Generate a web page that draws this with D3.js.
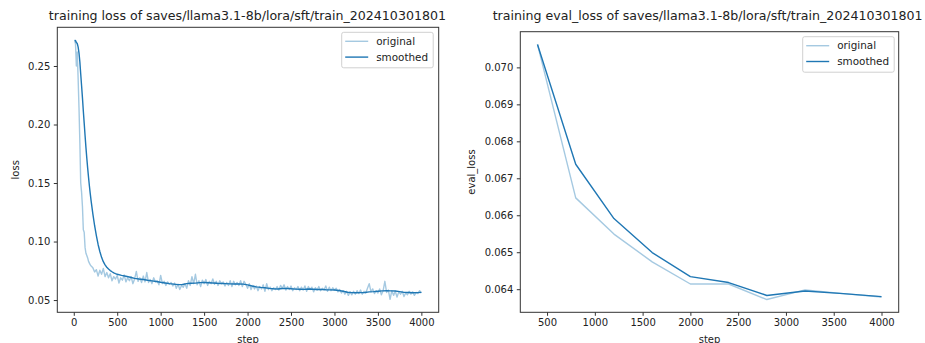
<!DOCTYPE html>
<html>

<head>
    <script src="https://d3js.org/d3.v7.min.js"></script>
    <style>
        body { margin: 0; background: #fff; }
        text { font-family: "DejaVu Sans", sans-serif; fill: #222; }
        .axis path, .axis line { stroke: #333; }
        .axis text { font-size: 10px; fill: #222; }
    </style>
</head>

<body>
    <svg id="chart" width="925" height="343"></svg>

    <script>
        // ---- data ----
        const lossSteps = d3.range(10, 201, 10).concat(d3.range(220, 4001, 20));
        const lossOriginal = [
            0.2720, 0.2690, 0.2500, 0.2620, 0.2400, 0.2150, 0.1850, 0.1500, 0.1420, 0.1300,
            0.1100, 0.1080, 0.0950, 0.0900, 0.0880, 0.0860, 0.0830, 0.0815, 0.0800, 0.0790,
            // 220 .. 4000 every 20
            0.0775, 0.0740, 0.0760, 0.0705, 0.0755, 0.0720, 0.0770, 0.0700, 0.0735, 0.0690,
            0.0725, 0.0665, 0.0700, 0.0680, 0.0710, 0.0645, 0.0690, 0.0670, 0.0715, 0.0655,
            0.0690, 0.0665, 0.0700, 0.0640, 0.0680, 0.0745, 0.0660, 0.0690, 0.0650, 0.0705,
            0.0655, 0.0735, 0.0650, 0.0675, 0.0640, 0.0690, 0.0655, 0.0665, 0.0630, 0.0710,
            0.0640, 0.0660, 0.0625, 0.0655, 0.0635, 0.0650, 0.0620, 0.0645, 0.0600, 0.0635,
            0.0590, 0.0625, 0.0610, 0.0640, 0.0600, 0.0665, 0.0625, 0.0700, 0.0640, 0.0720,
            0.0630, 0.0665, 0.0615, 0.0670, 0.0640, 0.0675, 0.0625, 0.0660, 0.0640, 0.0680,
            0.0635, 0.0660, 0.0625, 0.0665, 0.0640, 0.0655, 0.0620, 0.0650, 0.0625, 0.0665,
            0.0615, 0.0660, 0.0630, 0.0650, 0.0625, 0.0665, 0.0615, 0.0660, 0.0635, 0.0600,
            0.0640, 0.0590, 0.0625, 0.0595, 0.0620, 0.0580, 0.0615, 0.0595, 0.0630, 0.0575,
            0.0640, 0.0590, 0.0610, 0.0580, 0.0605, 0.0590, 0.0615, 0.0585, 0.0625, 0.0600,
            0.0630, 0.0585, 0.0615, 0.0590, 0.0620, 0.0580, 0.0605, 0.0590, 0.0615, 0.0580,
            0.0610, 0.0585, 0.0620, 0.0575, 0.0615, 0.0590, 0.0610, 0.0570, 0.0605, 0.0585,
            0.0615, 0.0580, 0.0600, 0.0585, 0.0620, 0.0575, 0.0610, 0.0580, 0.0605, 0.0585,
            0.0600, 0.0570, 0.0590, 0.0560, 0.0580, 0.0550, 0.0575, 0.0540, 0.0570, 0.0545,
            0.0575, 0.0550, 0.0580, 0.0555, 0.0585, 0.0550, 0.0575, 0.0560, 0.0600, 0.0640,
            0.0570, 0.0595, 0.0555, 0.0580, 0.0560, 0.0595, 0.0545, 0.0580, 0.0660, 0.0565,
            0.0585, 0.0506, 0.0580, 0.0540, 0.0575, 0.0525, 0.0570, 0.0550, 0.0575, 0.0530,
            0.0560, 0.0545, 0.0575, 0.0550, 0.0570, 0.0540, 0.0565, 0.0555, 0.0580, 0.0560
        ];

        const smoothSteps = d3.range(10, 201, 10).concat(d3.range(220, 501, 20), d3.range(550, 4001, 50));
        const lossSmoothed = [
            0.2720, 0.2717, 0.2700, 0.2692, 0.2663, 0.2612, 0.2536, 0.2432, 0.2331, 0.2228,
            0.2115, 0.2012, 0.1906, 0.1805, 0.1713, 0.1627, 0.1548, 0.1475, 0.1407, 0.1346,
            // 220 .. 500 every 20
            0.1235, 0.1135, 0.1050, 0.0975, 0.0915, 0.0865, 0.0828, 0.0800, 0.0780, 0.0765,
            0.0752, 0.0742, 0.0733, 0.0726, 0.0720,
            // 550 .. 4000 every 50
            0.0711, 0.0703, 0.0695, 0.0685, 0.0680, 0.0676, 0.0669, 0.0664, 0.0659, 0.0652,
            0.0646, 0.0640, 0.0636, 0.0632, 0.0633, 0.0640, 0.0643, 0.0645, 0.0649, 0.0650,
            0.0648, 0.0646, 0.0643, 0.0642, 0.0640, 0.0638, 0.0637, 0.0638, 0.0636, 0.0630,
            0.0620, 0.0613, 0.0608, 0.0605, 0.0600, 0.0596, 0.0595, 0.0599, 0.0600, 0.0597,
            0.0593, 0.0592, 0.0591, 0.0594, 0.0592, 0.0590, 0.0591, 0.0588, 0.0587, 0.0586,
            0.0582, 0.0575, 0.0567, 0.0563, 0.0562, 0.0563, 0.0565, 0.0570, 0.0572, 0.0575,
            0.0578, 0.0579, 0.0578, 0.0577, 0.0572, 0.0566, 0.0564, 0.0562, 0.0563, 0.0566
        ];

        const evalSteps = [400, 800, 1200, 1600, 2000, 2400, 2800, 3200, 3600, 4000];
        const evalOriginal = [0.07062, 0.06647, 0.06549, 0.06474, 0.06414, 0.06414, 0.06372, 0.06398, 0.06388, 0.06379];
        const evalSmoothed = [0.07062, 0.06738, 0.06591, 0.06499, 0.06434, 0.06418, 0.06383, 0.06395, 0.06388, 0.06380];

        const lossXTicks = [0, 500, 1000, 1500, 2000, 2500, 3000, 3500, 4000];
        const lossYTicks = [0.05, 0.10, 0.15, 0.20, 0.25];
        const evalXTicks = [500, 1000, 1500, 2000, 2500, 3000, 3500, 4000];
        const evalYTicks = [0.064, 0.065, 0.066, 0.067, 0.068, 0.069, 0.070];

        const blue = "#1f77b4";
        const svg = d3.select("#chart");

        // pad an extent by 5% like matplotlib does
        function padded(values) {
            const [lo, hi] = d3.extent(values);
            const m = (hi - lo) * 0.05;
            return [lo - m, hi + m];
        }

        function drawPanel(opts) {
            const box = opts.box;
            const g = svg.append("g");

            const x = d3.scaleLinear().domain(padded(opts.allSteps)).range([box.left, box.right]);
            const y = d3.scaleLinear().domain(padded(opts.allValues)).range([box.bottom, box.top]);

            const lineGen = d3.line()
                .x(d => x(d[0]))
                .y(d => y(d[1]));

            g.append("path")
                .attr("d", lineGen(d3.zip(opts.origSteps, opts.orig)))
                .attr("fill", "none")
                .attr("stroke", blue)
                .attr("stroke-opacity", 0.4)
                .attr("stroke-width", 1.4)
                .attr("stroke-linejoin", "round");

            g.append("path")
                .attr("d", lineGen(d3.zip(opts.smoothSteps, opts.smooth)))
                .attr("fill", "none")
                .attr("stroke", blue)
                .attr("stroke-width", 1.4)
                .attr("stroke-linejoin", "round");

            // axes
            g.append("g")
                .attr("class", "axis")
                .attr("transform", `translate(0,${box.bottom})`)
                .call(d3.axisBottom(x).tickValues(opts.xTicks).tickFormat(d3.format("d"))
                    .tickSizeInner(3.5).tickSizeOuter(0).tickPadding(3.5))
                .call(a => a.select(".domain").remove());

            g.append("g")
                .attr("class", "axis")
                .attr("transform", `translate(${box.left},0)`)
                .call(d3.axisLeft(y).tickValues(opts.yTicks).tickFormat(d3.format(opts.yFormat))
                    .tickSizeInner(3.5).tickSizeOuter(0).tickPadding(3.5))
                .call(a => a.select(".domain").remove());

            // frame
            g.append("rect")
                .attr("x", box.left)
                .attr("y", box.top)
                .attr("width", box.right - box.left)
                .attr("height", box.bottom - box.top)
                .attr("fill", "none")
                .attr("stroke", "#333")
                .attr("stroke-width", 1);

            // title + labels
            g.append("text")
                .attr("x", opts.titleX)
                .attr("y", 20)
                .attr("text-anchor", "middle")
                .style("font-size", "12.6px")
                .text(opts.title);

            g.append("text")
                .attr("x", (box.left + box.right) / 2)
                .attr("y", 342.5)
                .attr("text-anchor", "middle")
                .style("font-size", "10px")
                .text("step");

            g.append("text")
                .attr("transform", `translate(${opts.ylabelX},${(box.top + box.bottom) / 2}) rotate(-90)`)
                .attr("text-anchor", "middle")
                .style("font-size", "10px")
                .text(opts.ylabel);

            // legend
            const lg = g.append("g").attr("transform", `translate(${opts.legend[0]},${opts.legend[1]})`);
            lg.append("rect")
                .attr("width", 91.5)
                .attr("height", 35.5)
                .attr("rx", 2)
                .attr("fill", "#fff")
                .attr("fill-opacity", 0.8)
                .attr("stroke", "#d0d0d0");
            [["original", 0.4], ["smoothed", 1]].forEach((item, i) => {
                const yy = 9 + i * 15.8;
                lg.append("line")
                    .attr("x1", 3.5).attr("x2", 26.5)
                    .attr("y1", yy).attr("y2", yy)
                    .attr("stroke", blue)
                    .attr("stroke-opacity", item[1])
                    .attr("stroke-width", 1.4);
                lg.append("text")
                    .attr("x", 34.5)
                    .attr("y", yy + 3.7)
                    .style("font-size", "10.4px")
                    .text(item[0]);
            });
        }

        drawPanel({
            box: { left: 57.3, right: 438.7, top: 27.3, bottom: 312.3 },
            allSteps: lossSteps,
            allValues: lossOriginal.concat(lossSmoothed),
            origSteps: lossSteps, orig: lossOriginal,
            smoothSteps: smoothSteps, smooth: lossSmoothed,
            xTicks: lossXTicks, yTicks: lossYTicks, yFormat: ".2f",
            title: "training loss of saves/llama3.1-8b/lora/sft/train_202410301801",
            titleX: 247.4,
            ylabel: "loss", ylabelX: 19.3,
            legend: [341.7, 32.3]
        });

        drawPanel({
            box: { left: 520.3, right: 898.7, top: 31.7, bottom: 312.3 },
            allSteps: evalSteps,
            allValues: evalOriginal.concat(evalSmoothed),
            origSteps: evalSteps, orig: evalOriginal,
            smoothSteps: evalSteps, smooth: evalSmoothed,
            xTicks: evalXTicks, yTicks: evalYTicks, yFormat: ".3f",
            title: "training eval_loss of saves/llama3.1-8b/lora/sft/train_202410301801",
            titleX: 707.6,
            ylabel: "eval_loss", ylabelX: 474.5,
            legend: [802.7, 36.7]
        });
    </script>

</body>

</html>
